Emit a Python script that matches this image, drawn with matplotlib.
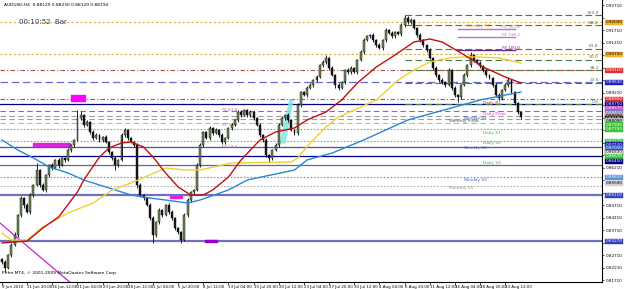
import matplotlib
matplotlib.use('Agg')
import matplotlib.pyplot as plt
from matplotlib.patches import Rectangle, Polygon

# ---------------- data ----------------
symbol_header = "AUDUSD,H4  0.88129 0.88230 0.88129 0.88194"
timer_text = "00:10:52  Bar"
copyright_text = "Prifro MT4, \u00a9 2001-2009 MetaQuotes Software Corp."

open0 = 0.8255
closes = [
    0.8243, 0.8219, 0.8271, 0.8311, 0.8351, 0.8431, 0.8499, 0.8471, 0.8443, 0.8511,
    0.8551, 0.8611, 0.8551, 0.8531, 0.8591, 0.8631, 0.8619, 0.8651, 0.8631, 0.8659,
    0.8651, 0.8691, 0.8711, 0.8731, 0.8819, 0.8831, 0.8791, 0.8803, 0.8763, 0.8739,
    0.8751, 0.8731, 0.8743, 0.8723, 0.8683, 0.8659, 0.8631, 0.8651, 0.8751, 0.8771,
    0.8739, 0.8723, 0.8711, 0.8551, 0.8511, 0.8499, 0.8471, 0.8419, 0.8351, 0.8403,
    0.8451, 0.8431, 0.8471, 0.8443, 0.8419, 0.8379, 0.8363, 0.8331, 0.8431, 0.8491,
    0.8523, 0.8531, 0.8631, 0.8711, 0.8763, 0.8739, 0.8779, 0.8759, 0.8771, 0.8751,
    0.8723, 0.8739, 0.8779, 0.8791, 0.8811, 0.8843, 0.8831, 0.8851, 0.8831, 0.8843,
    0.8819, 0.8791, 0.8751, 0.8731, 0.8671, 0.8659, 0.8691, 0.8711, 0.8791, 0.8819,
    0.8831, 0.8811, 0.8771, 0.8759, 0.8871, 0.8923, 0.8911, 0.8939, 0.8951, 0.8971,
    0.8983, 0.9031, 0.9043, 0.9059, 0.9019, 0.8991, 0.8951, 0.8939, 0.8963, 0.9011,
    0.9003, 0.9019, 0.9003, 0.9051, 0.9083, 0.9131, 0.9147, 0.9151, 0.9131, 0.9111,
    0.9099, 0.9131, 0.9171, 0.9159, 0.9147, 0.9163, 0.9155, 0.9191, 0.9219, 0.9203,
    0.9211, 0.9179, 0.9151, 0.9131, 0.9111, 0.9091, 0.9059, 0.9019, 0.8991, 0.8971,
    0.8963, 0.8951, 0.9011, 0.8939, 0.8911, 0.8903, 0.8951, 0.8991, 0.9031, 0.9071,
    0.9051, 0.9039, 0.9027, 0.9011, 0.8991, 0.8979, 0.8951, 0.8911, 0.8899, 0.8931,
    0.8951, 0.8971, 0.8923, 0.8881, 0.8843, 0.8823,
]
up_wick_pips = [
    6, 10, 4, 8, 12, 5, 9, 3, 7, 10,
    6, 28, 4, 8, 6, 5, 9, 4, 7, 6,
    5, 8, 6, 4, 32, 15, 6, 9, 5, 7,
    10, 4, 6, 8, 5, 3, 7, 6, 8, 10,
    5, 6, 4, 9, 7, 5, 6, 8, 10, 4,
    9, 6, 5, 7, 8, 4, 6, 5, 8, 7,
    6, 5, 9, 10, 6, 4, 8, 5, 7, 6,
    9, 4, 6, 8, 5, 10, 7, 6, 4, 8,
    5, 6, 9, 4, 7, 5, 6, 8, 10, 7,
    5, 9, 6, 4, 8, 6, 5, 7, 10, 6,
    8, 5, 9, 12, 6, 7, 5, 8, 6, 4,
    9, 7, 5, 6, 8, 10, 6, 4, 7, 5,
    8, 6, 9, 5, 7, 6, 4, 8, 12, 7,
    10, 6, 5, 8, 4, 6, 7, 5, 9, 6,
    8, 5, 7, 6, 9, 5, 6, 8, 5, 12,
    6, 5, 8, 4, 7, 6, 5, 9, 8, 6,
    7, 12, 5, 6, 4, 5,
]
dn_wick_pips = [
    8, 16, 5, 7, 4, 9, 6, 10, 5, 8,
    6, 4, 9, 5, 7, 6, 8, 5, 10, 4,
    7, 5, 6, 8, 4, 6, 9, 5, 7, 6,
    5, 8, 6, 4, 9, 7, 20, 6, 5, 8,
    6, 4, 7, 10, 6, 8, 5, 9, 32, 7,
    8, 6, 5, 9, 6, 7, 8, 12, 5, 6,
    7, 9, 5, 6, 8, 4, 7, 6, 5, 9,
    6, 8, 5, 7, 4, 6, 9, 5, 8, 6,
    7, 5, 6, 9, 8, 16, 6, 5, 7, 4,
    8, 6, 5, 9, 6, 7, 4, 8, 5, 6,
    9, 5, 7, 6, 8, 4, 10, 6, 5, 7,
    6, 8, 5, 7, 4, 6, 5, 9, 6, 8,
    5, 7, 6, 4, 8, 6, 5, 7, 6, 9,
    6, 5, 8, 7, 6, 9, 5, 7, 8, 6,
    9, 6, 5, 8, 7, 20, 6, 5, 8, 6,
    7, 5, 8, 6, 9, 5, 7, 6, 8, 6,
    5, 7, 6, 9, 8, 6,
]

x_labels = ["9 Jun 2010", "11 Jun 20:00", "16 Jun 12:00", "21 Jun 04:00", "23 Jun 20:00",
            "28 Jun 12:00", "1 Jul 04:00", "5 Jul 20:00", "8 Jul 12:00", "13 Jul 04:00",
            "15 Jul 20:00", "20 Jul 12:00", "23 Jul 04:00", "27 Jul 20:00", "30 Jul 12:00",
            "4 Aug 04:00", "6 Aug 20:00", "11 Aug 12:00", "16 Aug 04:00", "18 Aug 20:00",
            "23 Aug 12:00"]
x_label_bars = [0, 8, 16, 24, 32, 40, 48, 56, 64, 72, 80, 88, 96, 104, 112, 120, 128,
                136, 144, 152, 160]

ytick_values = [0.8171, 0.8221, 0.8271, 0.8321, 0.8371, 0.8421, 0.8471, 0.8521, 0.8571,
                0.8621, 0.8671, 0.8721, 0.8771, 0.8821, 0.8871, 0.8921, 0.8971, 0.9021,
                0.9071, 0.9121, 0.9171, 0.9221, 0.9271]

# moving averages (bar index -> value)
red_ma_bar = [0, 8, 13, 18, 24, 26, 31, 34, 38, 41, 45, 48, 52, 56, 60, 64, 67, 72, 76,
              82, 87, 93, 97, 103, 108, 113, 119, 124, 131, 136, 140, 147, 153, 160, 165]
red_ma_val = [0.8319, 0.8327, 0.8379, 0.8423, 0.8523, 0.8571, 0.8663, 0.8699, 0.8719,
              0.8723, 0.8703, 0.8663, 0.8599, 0.8543, 0.8511, 0.8511, 0.8531, 0.8583,
              0.8651, 0.8731, 0.8763, 0.8779, 0.8811, 0.8843, 0.8891, 0.8959, 0.9023,
              0.9063, 0.9123, 0.9135, 0.9123, 0.9071, 0.9023, 0.8983, 0.8959]
yellow_ma_bar = [0, 3, 8, 13, 21, 29, 35, 41, 47, 52, 58, 63, 73, 92, 94, 98, 103, 107,
                 112, 119, 126, 131, 136, 142, 147, 152, 158, 165]
yellow_ma_val = [0.8359, 0.8331, 0.8331, 0.8383, 0.8439, 0.8479, 0.8531, 0.8559, 0.8591,
                 0.8619, 0.8611, 0.8611, 0.8639, 0.8643, 0.8659, 0.8719, 0.8783, 0.8823,
                 0.8851, 0.8891, 0.8971, 0.9011, 0.9043, 0.9059, 0.9063, 0.9063, 0.9059,
                 0.9039]
blue_ma_bar = [0, 5, 10, 15, 21, 26, 31, 36, 41, 47, 52, 59, 63, 72, 78, 93, 97, 105,
               115, 129, 144, 152, 165]
blue_ma_val = [0.8731, 0.8691, 0.8659, 0.8623, 0.8599, 0.8571, 0.8551, 0.8531, 0.8511,
               0.8499, 0.8491, 0.8479, 0.8491, 0.8531, 0.8571, 0.8611, 0.8651, 0.8679,
               0.8731, 0.8811, 0.8863, 0.8891, 0.8923]

# horizontal levels: price, colour, linestyle, linewidth
h_levels = [0.9203, 0.9075, 0.9011, 0.8963, 0.8895, 0.8875, 0.8847, 0.8829, 0.8815,
            0.8799, 0.8775, 0.8727, 0.8703, 0.8667, 0.8631, 0.8583, 0.8547, 0.8511, 0.8327]
h_colors = ['#d4b040', '#d4b040', '#b05050', '#6a6ad0', '#b05050', '#000080', '#cc44cc',
            '#a0a0a0', '#a0a0a0', '#90d090', '#60c060', '#60c060', '#5050a0', '#000080',
            '#6060b0', '#8090c0', '#b0b0b0', '#7070c0', '#7070c0']
h_styles = [(0, (2, 2)), (0, (2, 2)), (0, (4, 2, 1, 2)), (0, (6, 3)), (0, (4, 2, 1, 2)),
            '-', (0, (5, 3)), (0, (5, 3)), (0, (5, 3)), (0, (5, 3)), (0, (1.5, 1.5)),
            (0, (1.5, 1.5)), '-', '-', '-', (0, (1.5, 1.5)), (0, (1.5, 1.5)), '-', '-']
h_widths = [0.8, 0.8, 0.8, 0.9, 0.8, 0.9, 0.8, 0.8, 0.8, 0.8, 0.8, 0.8, 0.9, 0.9, 0.9,
            0.8, 0.8, 1.6, 1.6]

# right-axis price boxes
box_prices = [0.9203, 0.9075, 0.9011, 0.8963, 0.8895, 0.8875, 0.8857, 0.8841, 0.8829,
              0.8819, 0.8809, 0.8793, 0.8775, 0.8727, 0.8713, 0.8701, 0.8683, 0.8667,
              0.8645, 0.8583, 0.8559, 0.8511, 0.8327]
box_colors = ['#f0b030', '#f0b030', '#e03030', '#2020c0', '#e03030', '#000080', '#d040d0',
              '#8080c0', '#c0a0a0', '#000000', '#c0c0c0', '#40c040', '#40c040', '#40c040',
              '#2020a0', '#3060e0', '#ffffff', '#40c040', '#000080', '#6090d0', '#d0d0d0',
              '#3040c0', '#3040c0']

# fibonacci retracement
fib_high = 0.9231
fib_low = 0.8875
fib_levels = [0.0, 23.6, 38.2, 50.0, 61.8, 88.6, 100.0]
fib_start_bar = 128

# fibonacci expansion lines
fe_values = [0.9175, 0.9143, 0.9091]
fe_names = ["FE 161.8", "FE 138.2", "FE 100.0"]
fe_colors = ['#c070d0', '#c070d0', '#6a2a8a']
fe_bars = (145, 163)

# pivot labels: text, bar, price, colour
pivot_texts = ["Weekly R1", "Daily R1", "Daily Pivot", "Weekly S1", "Monthly Pivot",
               "Daily S1", "Daily S2", "Weekly S2", "Daily S3", "Weekly S3", "Monthly S1"]
pivot_bars = [148, 153, 153, 147, 142, 153, 153, 147, 153, 147, 142]
pivot_prices = [0.9188, 0.8881, 0.8837, 0.8821, 0.8806, 0.8761, 0.8718, 0.8700, 0.8641,
                0.8573, 0.8541]
pivot_colors = ['#e0a020', '#d03030', '#d040d0', '#4060c0', '#505050', '#40b040',
                '#40b040', '#4060c0', '#40b040', '#4060c0', '#909090']

fe_left_texts = ["FE 61.8", "FE 38.2", "FE 23.6"]
fe_left_prices = [0.8853, 0.8793, 0.8705]
fe_left_bar = 70

# ---------------- figure ----------------
W, H = 625, 289
fig = plt.figure(figsize=(W / 100, H / 100), dpi=100)
fig.patch.set_facecolor('white')
ax = fig.add_axes([0 / W, 7 / H, 602 / W, 282 / H])
px_per_bar = 3.145
x0 = -2 / px_per_bar
x1 = x0 + 602 / px_per_bar
ax.set_xlim(x0, x1)
ymax = 0.9291
ymin = ymax - 0.0004 * 282
ax.set_ylim(ymin, ymax)

for s in ['left', 'top']:
    ax.spines[s].set_visible(False)
for s in ['right', 'bottom']:
    ax.spines[s].set_color('black')
    ax.spines[s].set_linewidth(0.8)

# horizontal levels
for p, c, ls, lw in zip(h_levels, h_colors, h_styles, h_widths):
    ax.axhline(p, color=c, linestyle=ls, linewidth=lw, zorder=1)

# fibonacci
for lev in fib_levels:
    p = fib_low + (fib_high - fib_low) * lev / 100
    ax.plot([fib_start_bar, x1], [p, p], color='#4a7a4a',
            linestyle=(0, (6, 3)), linewidth=0.8, zorder=1)
    ax.text(x1 - 1, p + 0.0002, f"{lev:.1f}", fontsize=3.2,
            color='#4a7a4a', ha='right', va='bottom')

# FE lines
for v, n, c in zip(fe_values, fe_names, fe_colors):
    ax.plot(list(fe_bars), [v, v], color=c, linewidth=1.0, zorder=2)
    ax.text(fe_bars[1] - 4, v + 0.0002, n, fontsize=3.0, color=c, ha='left', va='bottom')

# shapes
ax.add_patch(Rectangle((22.0, 0.8887), 4.4, 0.0024, color='#ff00ff', zorder=3))
ax.add_patch(Rectangle((10.0, 0.8707), 11.6, 0.0012, color='#dd22dd', zorder=3))
ax.add_patch(Rectangle((53.4, 0.8499), 3.8, 0.0008, color='#dd22dd', zorder=3))
ax.add_patch(Rectangle((64.5, 0.8323), 3.9, 0.0008, color='#9400d3', zorder=3))
ax.plot([x0, 21.5], [0.8399, 0.8163], color='#cc22cc', linewidth=0.9, zorder=2)
ax.add_patch(Polygon([(88.5, 0.8719), (91.5, 0.8891), (92.5, 0.8891), (90.0, 0.8719)],
                     closed=True, color='#80e8e0', alpha=0.8, zorder=2))

# candles
opens = [open0] + closes[:-1]
for i, (o, c, u, d) in enumerate(zip(opens, closes, up_wick_pips, dn_wick_pips)):
    hi = max(o, c) + u * 1e-4
    lo = min(o, c) - d * 1e-4
    ax.vlines(i, lo, hi, color='black', linewidth=0.6, zorder=4)
    body = c - o
    if abs(body) < 0.00015:
        body = 0.00015 if body >= 0 else -0.00015
    fc = '#6e8e58' if c >= o else '#1a1a1a'
    ax.bar(i, body, bottom=o, width=0.62, color=fc, edgecolor='black',
           linewidth=0.3, zorder=5)

# moving averages
ax.plot(blue_ma_bar, blue_ma_val, color='#2a86d6', linewidth=1.0, zorder=6)
ax.plot(yellow_ma_bar, yellow_ma_val, color='#f0d030', linewidth=1.0, zorder=6)
ax.plot(red_ma_bar, red_ma_val, color='#c01010', linewidth=1.0, zorder=6)

# texts
ax.text(0.6, ymax - 0.0004 * 4.5, symbol_header, fontsize=3.2, color='black',
        va='center', ha='left')
ax.text(5.5, ymax - 0.0004 * 22, timer_text, fontsize=5.0, color='#303080',
        va='center', ha='left')
ax.text(0.0, ymax - 0.0004 * 273, copyright_text, fontsize=3.2, color='black',
        va='center', ha='left')
for t, b, p, c in zip(pivot_texts, pivot_bars, pivot_prices, pivot_colors):
    ax.text(b, p, t, fontsize=3.2, color=c, ha='left', va='center', zorder=7)
for t, p in zip(fe_left_texts, fe_left_prices):
    ax.text(fe_left_bar, p, t, fontsize=3.0, color='#c060c0', ha='left', va='center')

# axes ticks (labels hidden where a price box covers them, as in the terminal)
ax.set_xticks(x_label_bars)
ax.set_xticklabels(x_labels)
ax.tick_params(axis='x', length=2, width=0.5, pad=0.5, labelsize=2.9, direction='out')
for lbl in ax.get_xticklabels():
    lbl.set_horizontalalignment('left')
ax.yaxis.tick_right()
ax.set_yticks(ytick_values)
ylabels = []
for v in ytick_values:
    covered = any(abs(v - bp) < 0.0022 for bp in box_prices)
    ylabels.append("" if covered else f"{v:.5f}")
ax.set_yticklabels(ylabels)
ax.tick_params(axis='y', length=1.5, width=0.5, pad=1, labelsize=3.0, direction='out')

# price boxes on right axis
for p, c in zip(box_prices, box_colors):
    tc = 'black' if c in ('#ffffff', '#c0c0c0', '#d0d0d0', '#f0b030', '#c0a0a0') else 'white'
    ax.text(1.006, (p - ymin) / (ymax - ymin), f"{p:.5f}", transform=ax.transAxes,
            fontsize=3.0, color=tc, ha='left', va='center', zorder=10, clip_on=False,
            bbox=dict(boxstyle='square,pad=0.12', fc=c, ec=c if c != '#ffffff' else 'black',
                      lw=0.3))

fig.savefig('out.png', dpi=100, facecolor='white')
